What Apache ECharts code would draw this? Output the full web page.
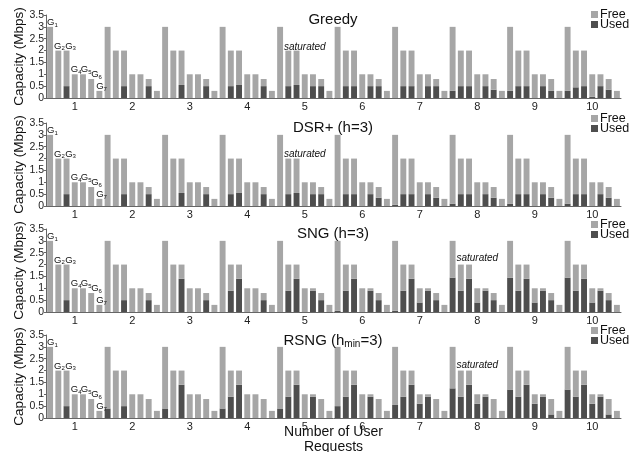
<!DOCTYPE html>
<html>
<head>
<meta charset="utf-8">
<script src="https://cdn.jsdelivr.net/npm/echarts@6/dist/echarts.min.js"></script>
<style>
html, body { margin: 0; padding: 0; background: #fff; }
#chart { width: 644px; height: 452px; }
</style>
</head>
<body>
<div id="chart"></div>
<script>
// user requests (x groups) and gateways inside each group
const requests = ['1', '2', '3', '4', '5', '6', '7', '8', '9', '10'];
const gateways = ['1', '2', '3', '4', '5', '6', '7'];
const capacity = [3, 2, 2, 1, 1, 0.8, 0.3];

// used capacity per request, G1..G7
const usedGreedy = [
    [0, 0, 0.5, 0, 0, 0, 0],
    [0, 0, 0.5, 0, 0, 0.5, 0],
    [0, 0, 0.55, 0, 0, 0.5, 0],
    [0, 0.5, 0.55, 0, 0, 0.5, 0],
    [0, 0.5, 0.55, 0, 0.5, 0.5, 0],
    [0, 0.5, 0.5, 0, 0.5, 0.5, 0],
    [0, 0.5, 0.5, 0, 0.5, 0.5, 0],
    [0.3, 0.5, 0.5, 0, 0.5, 0.35, 0],
    [0.3, 0.5, 0.5, 0, 0.5, 0.3, 0],
    [0.3, 0.45, 0.5, 0.05, 0.5, 0.35, 0]
];
const usedDSR = [
    [0, 0, 0.5, 0, 0, 0, 0],
    [0, 0, 0.5, 0, 0, 0.5, 0],
    [0, 0, 0.55, 0, 0, 0.5, 0],
    [0, 0.5, 0.55, 0, 0, 0.5, 0],
    [0, 0.5, 0.55, 0, 0.5, 0.5, 0],
    [0, 0.5, 0.5, 0, 0.5, 0.35, 0],
    [0.05, 0.5, 0.5, 0, 0.5, 0.35, 0],
    [0.1, 0.5, 0.5, 0, 0.5, 0.35, 0],
    [0.1, 0.5, 0.5, 0, 0.5, 0.35, 0],
    [0.1, 0.5, 0.5, 0, 0.5, 0.35, 0]
];
const usedSNG = [
    [0, 0, 0.5, 0, 0, 0, 0],
    [0, 0, 0.5, 0, 0, 0.5, 0],
    [0, 0, 1.4, 0, 0, 0.5, 0],
    [0, 0.9, 1.4, 0, 0, 0.5, 0],
    [0, 0.9, 1.4, 0, 0.9, 0.5, 0],
    [0.05, 0.9, 1.4, 0, 0.9, 0.5, 0],
    [0.05, 0.9, 1.4, 0.4, 0.9, 0.5, 0],
    [1.45, 0.9, 1.4, 0.4, 0.9, 0.5, 0],
    [1.45, 0.9, 1.4, 0.4, 0.9, 0.5, 0],
    [1.45, 0.9, 1.4, 0.4, 0.9, 0.5, 0]
];
const usedRSNG = [
    [0, 0, 0.5, 0, 0, 0, 0],
    [0.4, 0, 0.5, 0, 0, 0, 0],
    [0.4, 0, 1.4, 0, 0, 0, 0],
    [0.4, 0.9, 1.4, 0, 0, 0, 0],
    [0.4, 0.9, 1.4, 0, 0.9, 0, 0],
    [0.5, 0.9, 1.4, 0, 0.9, 0, 0],
    [0.55, 0.9, 1.4, 0.6, 0.9, 0, 0],
    [1.25, 0.9, 1.4, 0.6, 0.9, 0, 0],
    [1.2, 0.9, 1.4, 0.6, 0.9, 0.15, 0],
    [1.2, 0.9, 1.4, 0.6, 0.9, 0.15, 0]
];
const yTicks = [0, 0.5, 1, 1.5, 2, 2.5, 3, 3.5];

const FONT = '"Liberation Sans", Arial, sans-serif';
const FREE = '#a6a6a6';
const USED = '#4e4e4e';

const categories = requests.flatMap(r => gateways.map(g => r + '-' + g));

// label nudges for the G1..G7 tags
const tagDx = [-3, -4.2, -1.4, -4, -2.2, 0, -3.2];

const panels = [
    { title: 'Greedy', used: usedGreedy, top: 15, legendTop: 8, sat: [31, 2.15] },
    { title: 'DSR+ (h=3)', used: usedDSR, top: 123, legendTop: 112, sat: [31, 2.2] },
    { title: 'SNG (h=3)', used: usedSNG, top: 229, legendTop: 218, sat: [52, 2.28] },
    { title: '{a|RSNG (h}{s|min}{a|=3)}', used: usedRSNG, top: 335, legendTop: 324, sat: [52, 2.24] }
];

const grid = [], xAxis = [], yAxis = [], series = [], title = [], legend = [];

panels.forEach((p, k) => {
    grid.push({ left: 46, width: 575, top: p.top, height: 83, outerBoundsMode: 'none', containLabel: false });
    xAxis.push({
        type: 'category', gridIndex: k, data: categories,
        axisLine: { lineStyle: { color: '#666' } },
        axisTick: { show: false },
        axisLabel: {
            interval: (i) => i % 7 === 3,
            formatter: (v) => v.split('-')[0],
            fontSize: 11, color: '#222', fontFamily: FONT, margin: 3
        },
        name: k === 3 ? 'Number of User\nRequests' : '',
        nameLocation: 'middle', nameGap: 7, nameMoveOverlap: false,
        nameTextStyle: { fontSize: 14, color: '#111', fontFamily: FONT, lineHeight: 15 }
    });
    yAxis.push({
        type: 'value', gridIndex: k, min: yTicks[0], max: yTicks[yTicks.length - 1], interval: 0.5,
        axisLine: { show: true, lineStyle: { color: '#666' } },
        axisTick: { show: true, length: 2, lineStyle: { color: '#666' } },
        splitLine: { show: false },
        axisLabel: { fontSize: 10.5, color: '#222', fontFamily: FONT, margin: 2, showMinLabel: true, showMaxLabel: true },
        name: 'Capacity (Mbps)', nameLocation: 'middle', nameGap: 20, nameMoveOverlap: false,
        nameTextStyle: { fontSize: 13.5, color: '#111', fontFamily: FONT }
    });
    const used = p.used.flat();
    const free = p.used.flatMap(row => row.map((u, j) => +(capacity[j] - u).toFixed(3)));
    series.push({
        name: 'Used', type: 'bar', stack: 's' + k, xAxisIndex: k, yAxisIndex: k,
        data: used, barWidth: '72%', itemStyle: { color: USED }
    });
    series.push({
        name: 'Free', type: 'bar', stack: 's' + k, xAxisIndex: k, yAxisIndex: k,
        barWidth: '72%', itemStyle: { color: FREE },
        data: free.map((v, i) => i < 7 ? {
            value: v,
            label: {
                show: true, position: 'top', distance: -1, align: 'left', offset: [tagDx[i], 0],
                textBorderWidth: 0,
                formatter: '{g|G}{s|' + gateways[i] + '}',
                rich: {
                    g: { fontSize: 9.5, color: '#111', fontFamily: FONT, textBorderWidth: 0 },
                    s: { fontSize: 6, color: '#111', fontFamily: FONT, textBorderWidth: 0, padding: [5, 0, 0, 0] }
                }
            }
        } : v),
        markPoint: {
            symbol: 'circle', symbolSize: 0,
            label: {
                show: true, position: 'inside', formatter: 'saturated',
                fontStyle: 'italic', fontSize: 10, color: '#111', fontFamily: FONT
            },
            data: [{ coord: [categories[p.sat[0]], p.sat[1]] }]
        }
    });
    title.push({
        text: p.title, left: 333, textAlign: 'center', top: p.top - 3, padding: 0,
        textStyle: {
            fontSize: 15, fontWeight: 'normal', color: '#111', fontFamily: FONT,
            rich: {
                a: { fontSize: 15, color: '#111', fontFamily: FONT },
                s: { fontSize: 10, color: '#111', fontFamily: FONT, padding: [7, 0, 0, 0] }
            }
        }
    });
    legend.push({
        data: ['Free', 'Used'], orient: 'vertical', left: 591, top: p.legendTop,
        itemWidth: 7, itemHeight: 7, itemGap: -3, padding: 0,
        icon: 'rect',
        textStyle: { fontSize: 12.5, color: '#111', fontFamily: FONT, padding: [0, 0, 0, -3] }
    });
});

const chart = echarts.init(document.getElementById('chart'));
chart.setOption({
    animation: false,
    backgroundColor: '#fff',
    title, legend, grid, xAxis, yAxis, series
});
</script>
</body>
</html>
